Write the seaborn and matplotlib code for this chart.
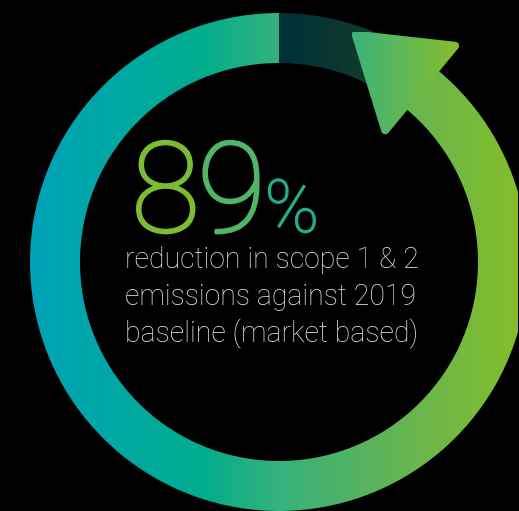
import numpy as np
import matplotlib
matplotlib.use("Agg")
import matplotlib.pyplot as plt
import matplotlib.patheffects as pe
import seaborn as sns
from matplotlib.patches import Wedge, Polygon
from matplotlib.colors import LinearSegmentedColormap

# ---- data ----
reduction_pct = 89
remaining_pct = 100 - reduction_pct
headline = f"{reduction_pct}"
caption_lines = ["reduction in scope 1 & 2",
                 "emissions against 2019",
                 "baseline (market based)"]

# ---- style ----
sns.set_theme(style="dark", rc={"figure.facecolor": "black",
                                "axes.facecolor": "black"})
plt.rcParams["font.family"] = ["Roboto", "DejaVu Sans"]

W, H = 519, 511
fig = plt.figure(figsize=(W / 100, H / 100), dpi=100)
ax = fig.add_axes([0, 0, 1, 1])
ax.set_xlim(0, W)
ax.set_ylim(0, H)
ax.set_aspect("equal")
ax.axis("off")

cx, cy = 279, 249
r_out, ring_w = 249, 50
r_mid = r_out - ring_w / 2

ring_cmap = LinearSegmentedColormap.from_list(
    "ring", [(0.0, "#00A3B8"), (0.35, "#00AD8E"), (0.51, "#35B27C"),
             (0.72, "#5EB45A"), (1.0, "#85BD2B")])
dark_cmap = LinearSegmentedColormap.from_list(
    "dark", [(0.0, "#003038"), (1.0, "#163D27")])
arrow_cmap = LinearSegmentedColormap.from_list(
    "arrow", [(0.0, "#3CB37B"), (1.0, "#86BD2A")])

grad = np.linspace(0, 1, 256).reshape(1, -1)

start = 90.0
end = start + reduction_pct / 100 * 360.0

# progress arc (counter-clockwise from 12 o'clock)
prog = Wedge((cx, cy), r_out, start, end, width=ring_w, facecolor="none",
             edgecolor="none")
ax.add_patch(prog)
im = ax.imshow(grad, cmap=ring_cmap, aspect="auto",
               extent=(cx - r_out, cx + r_out - 10, cy - r_out, cy + r_out),
               interpolation="bilinear", zorder=1)
im.set_clip_path(prog)

# remaining arc (dark)
rem = Wedge((cx, cy), r_out, end - 360.0, start, width=ring_w,
            facecolor="none", edgecolor="none")
ax.add_patch(rem)
im2 = ax.imshow(grad, cmap=dark_cmap, aspect="auto",
                extent=(cx, cx + 110, cy, cy + r_out),
                interpolation="bilinear", zorder=1)
im2.set_clip_path(rem)

# arrow head at the end of the progress arc
a = np.deg2rad(end)
radial = np.array([np.cos(a), np.sin(a)])
tangent = np.array([-np.sin(a), np.cos(a)])
mid = np.array([cx, cy]) + r_mid * radial
half_base, head_len = 59, 90
p1 = mid + half_base * radial
p2 = mid - half_base * radial
p3 = mid + head_len * tangent
tri = np.array([p1, p3, p2])
cen = tri.mean(axis=0)
rr = 4.0
inset = cen + (tri - cen) * 0.93
sgn = np.sign(np.cross(inset[1] - inset[0], inset[2] - inset[0]))
pts = []
n = len(inset)
for i in range(n):
    v = inset[i]
    prev_v, next_v = inset[i - 1], inset[(i + 1) % n]
    e1 = v - prev_v
    e2 = next_v - v
    n1 = np.array([e1[1], -e1[0]]) * sgn
    n2 = np.array([e2[1], -e2[0]]) * sgn
    a1 = np.arctan2(n1[1], n1[0])
    a2 = np.arctan2(n2[1], n2[0])
    if sgn > 0:
        while a2 < a1:
            a2 += 2 * np.pi
    else:
        while a2 > a1:
            a2 -= 2 * np.pi
    for t in np.linspace(a1, a2, 8):
        pts.append(v + rr * np.array([np.cos(t), np.sin(t)]))
head = Polygon(np.array(pts), closed=True, facecolor="none", edgecolor="none")
ax.add_patch(head)
xs, ys = tri[:, 0], tri[:, 1]
im3 = ax.imshow(grad, cmap=arrow_cmap, aspect="auto",
                extent=(xs.min(), xs.max(), ys.min(), ys.max()),
                interpolation="bilinear", zorder=2)
im3.set_clip_path(head)

# ---- headline text ----
fig.canvas.draw()
renderer = fig.canvas.get_renderer()
digit_colors = ["#7CBB34", "#52B467"]
x = 131
base_y = H - 232
big_kw = dict(fontsize=91, fontweight="light", va="baseline", ha="left",
              zorder=3)
for ch, col in zip(headline, digit_colors):
    t = ax.text(x, base_y, ch, color=col, **big_kw)
    t.set_path_effects([pe.withStroke(linewidth=1.6, foreground=col)])
    bb = t.get_window_extent(renderer=renderer)
    x = x + bb.width - 3
pct = ax.text(x + 1, base_y, "%", color="#22AF8A", fontsize=53,
              fontweight="light", va="baseline", ha="left", zorder=3)
pct.set_path_effects([pe.withStroke(linewidth=0.9, foreground="#22AF8A")])

# ---- caption (fit first line to reference width) ----
probe = ax.text(0, 0, caption_lines[0], fontsize=20, fontweight="light")
pw = probe.get_window_extent(renderer=renderer).width
probe.remove()
cap_size = 20 * 295 / pw
for i, line in enumerate(caption_lines):
    ax.text(125, H - (268 + i * 37), line, color="#E8E8E8",
            fontsize=cap_size, fontweight="light", va="baseline",
            ha="left", zorder=3)

fig.savefig("out.png", dpi=100, facecolor="black")
